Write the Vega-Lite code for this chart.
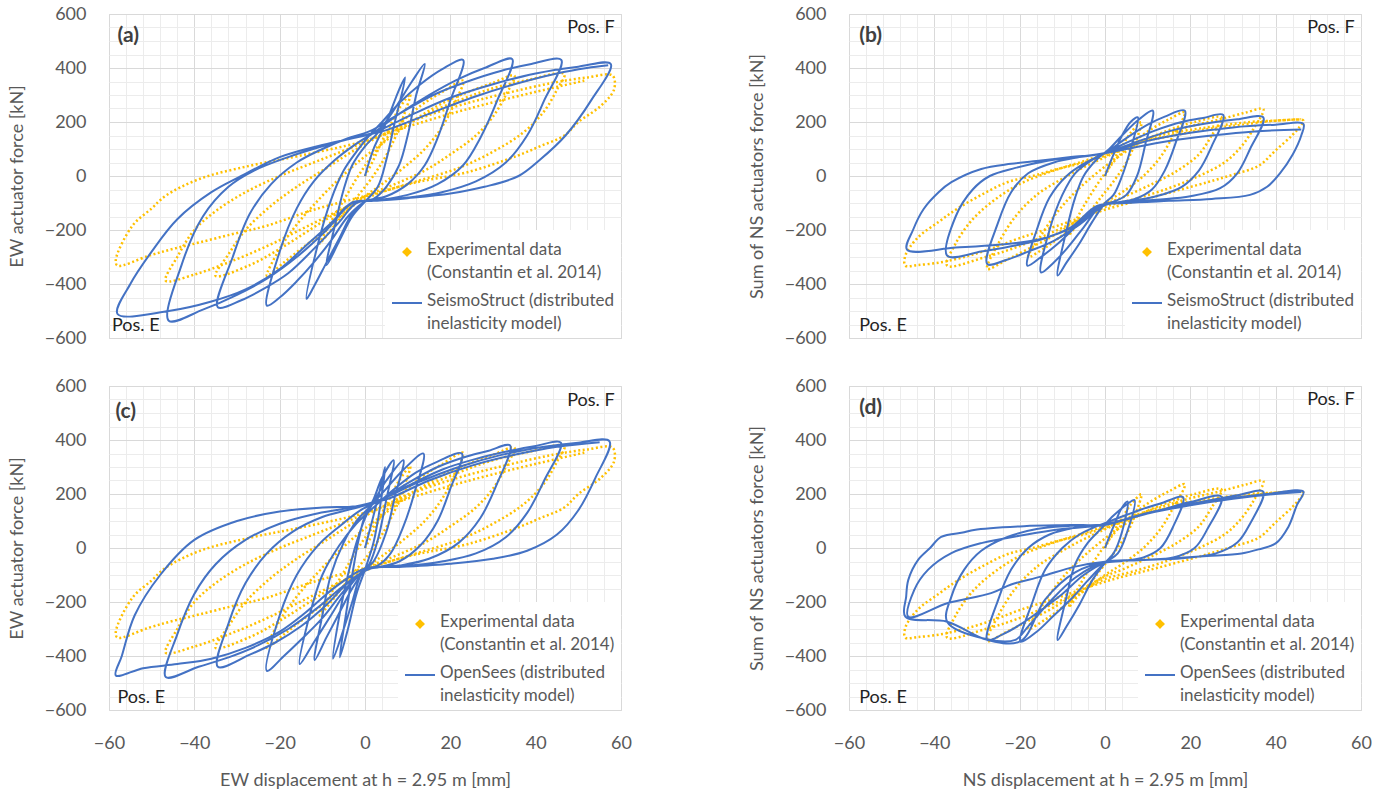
{
"$schema": "https://vega.github.io/schema/vega-lite/v6.json",
"background": "white",
"padding": {"left": 7, "top": 4, "right": 0, "bottom": 0},
"autosize": {"type": "pad"},
"config": {
  "view": {"stroke": "#d9d9d9", "strokeWidth": 1},
  "font": "Lato",
  "axis": {"labelFont": "Lato", "labelFontSize": 18, "labelColor": "#595959", "titleFont": "Lato", "titleFontSize": 18, "titleFontWeight": "normal", "titleColor": "#595959", "ticks": false, "domain": false, "gridColor": "#d9d9d9", "gridWidth": 1, "labelFlush": false}
},
"datasets": {
"expEW": [{"x":0,"y":0},{"x":2,"y":60},{"x":4,"y":130},{"x":6,"y":190},{"x":8,"y":250},{"x":10.6,"y":303},
{"x":9,"y":220},{"x":7,"y":140},{"x":4,"y":50},{"x":1,"y":-20},{"x":-2,"y":-80},{"x":-5,"y":-140},{"x":-8,"y":-200},{"x":-10.6,"y":-250},
{"x":-8,"y":-170},{"x":-5,"y":-90},{"x":-2,"y":-10},{"x":1,"y":60},{"x":4,"y":120},{"x":8,"y":190},{"x":13,"y":260},{"x":18,"y":310},{"x":23,"y":353},
{"x":21,"y":270},{"x":18,"y":180},{"x":14,"y":100},{"x":9,"y":30},{"x":4,"y":-30},{"x":0,"y":-75},{"x":-5,"y":-140},{"x":-10,"y":-210},{"x":-15,"y":-270},{"x":-19,"y":-320},{"x":-23,"y":-370},
{"x":-20,"y":-270},{"x":-16,"y":-180},{"x":-11,"y":-90},{"x":-6,"y":-10},{"x":-1,"y":60},{"x":4,"y":120},{"x":10,"y":190},{"x":17,"y":260},{"x":24,"y":310},{"x":30,"y":345},{"x":35,"y":372},
{"x":33,"y":300},{"x":30,"y":220},{"x":26,"y":150},{"x":20,"y":80},{"x":14,"y":20},{"x":7,"y":-30},{"x":0,"y":-75},{"x":-6,"y":-130},{"x":-13,"y":-200},{"x":-20,"y":-270},{"x":-27,"y":-330},{"x":-35,"y":-370},
{"x":-32,"y":-290},{"x":-28,"y":-200},{"x":-22,"y":-110},{"x":-16,"y":-40},{"x":-9,"y":30},{"x":-2,"y":100},{"x":5,"y":160},{"x":13,"y":220},{"x":22,"y":280},{"x":30,"y":325},{"x":38,"y":355},{"x":46.7,"y":378},
{"x":45,"y":320},{"x":42,"y":240},{"x":37,"y":160},{"x":30,"y":90},{"x":22,"y":30},{"x":12,"y":-20},{"x":3,"y":-65},{"x":-5,"y":-120},{"x":-14,"y":-190},{"x":-23,"y":-260},{"x":-32,"y":-320},{"x":-40,"y":-365},{"x":-46.7,"y":-388},
{"x":-44,"y":-300},{"x":-40,"y":-200},{"x":-35,"y":-130},{"x":-28,"y":-60},{"x":-20,"y":0},{"x":-12,"y":50},{"x":-4,"y":100},{"x":5,"y":160},{"x":14,"y":220},{"x":24,"y":270},{"x":34,"y":310},{"x":44,"y":345},{"x":52,"y":365},{"x":58,"y":372},
{"x":58.4,"y":322},{"x":55.3,"y":260},{"x":50,"y":200},{"x":46.7,"y":150},{"x":41,"y":110},{"x":35.7,"y":75},{"x":24,"y":14},{"x":12.2,"y":-23},{"x":0.4,"y":-73},{"x":-11.4,"y":-122},{"x":-23,"y":-184},{"x":-31,"y":-215},{"x":-38.8,"y":-246},{"x":-45,"y":-270},{"x":-50.6,"y":-295},{"x":-58,"y":-332},{"x":-58.4,"y":-310},
{"x":-54.5,"y":-184},{"x":-50,"y":-120},{"x":-46.7,"y":-73},{"x":-38.8,"y":-11},{"x":-27,"y":38},{"x":-15.3,"y":75},{"x":-1.2,"y":125},{"x":8.2,"y":174},{"x":24,"y":248},{"x":39.6,"y":310},{"x":51.4,"y":353}],
"expNS": [{"x":0,"y":0},{"x":2,"y":60},{"x":4,"y":110},{"x":6,"y":160},{"x":8.5,"y":199},
{"x":7,"y":120},{"x":5,"y":50},{"x":2,"y":-20},{"x":-1,"y":-80},{"x":-4,"y":-140},{"x":-6.5,"y":-180},{"x":-8.5,"y":-220},
{"x":-6,"y":-140},{"x":-3,"y":-60},{"x":0,"y":10},{"x":3,"y":70},{"x":7,"y":130},{"x":11,"y":175},{"x":15,"y":210},{"x":18.7,"y":236},
{"x":16,"y":150},{"x":13,"y":70},{"x":9,"y":0},{"x":4,"y":-60},{"x":0,"y":-100},{"x":-5,"y":-160},{"x":-10,"y":-220},{"x":-14,"y":-265},{"x":-18,"y":-300},
{"x":-15,"y":-220},{"x":-11,"y":-130},{"x":-7,"y":-60},{"x":-2,"y":10},{"x":3,"y":70},{"x":9,"y":130},{"x":15,"y":170},{"x":21,"y":200},{"x":27.3,"y":217},
{"x":25,"y":150},{"x":22,"y":80},{"x":17,"y":20},{"x":11,"y":-30},{"x":4,"y":-80},{"x":0,"y":-105},{"x":-6,"y":-160},{"x":-12,"y":-220},{"x":-18,"y":-270},{"x":-23,"y":-310},{"x":-27.6,"y":-344},
{"x":-25,"y":-250},{"x":-21,"y":-150},{"x":-16,"y":-70},{"x":-10,"y":-10},{"x":-4,"y":40},{"x":3,"y":90},{"x":11,"y":140},{"x":19,"y":180},{"x":27,"y":210},{"x":33,"y":235},{"x":37.1,"y":248},
{"x":35,"y":180},{"x":32,"y":110},{"x":28,"y":50},{"x":22,"y":0},{"x":15,"y":-45},{"x":7,"y":-85},{"x":0,"y":-115},{"x":-7,"y":-170},{"x":-14,"y":-220},{"x":-21,"y":-265},{"x":-28,"y":-300},{"x":-37,"y":-332},
{"x":-35,"y":-250},{"x":-31,"y":-160},{"x":-26,"y":-90},{"x":-20,"y":-30},{"x":-12,"y":20},{"x":-4,"y":60},{"x":4,"y":105},{"x":13,"y":150},{"x":24,"y":180},{"x":34,"y":200},{"x":40,"y":205},{"x":46.5,"y":205},
{"x":45.5,"y":180},{"x":43.8,"y":150},{"x":40,"y":95},{"x":36,"y":38},{"x":30,"y":5},{"x":24,"y":-23},{"x":12.4,"y":-73},{"x":0.6,"y":-122},{"x":-11.1,"y":-184},{"x":-20,"y":-230},{"x":-26.8,"y":-270},{"x":-33,"y":-300},{"x":-38.6,"y":-320},{"x":-44,"y":-330},{"x":-46.8,"y":-332},
{"x":-46.8,"y":-295},{"x":-44,"y":-230},{"x":-39,"y":-170},{"x":-34.7,"y":-122},{"x":-29,"y":-70},{"x":-22.9,"y":-23},{"x":-17,"y":0},{"x":-11.1,"y":26},{"x":-5,"y":50},{"x":0,"y":75},{"x":8.5,"y":125},{"x":16,"y":150},{"x":24,"y":174},{"x":32,"y":190},{"x":39.8,"y":205},{"x":46,"y":210}],
"ssEW": [{"x":0,"y":0},{"x":2,"y":100},{"x":5,"y":200},{"x":8,"y":320},{"x":9.4,"y":365},
{"x":7,"y":200},{"x":5,"y":60},{"x":3,"y":-40},{"x":0,"y":-95},{"x":-3,"y":-150},{"x":-6,"y":-240},{"x":-9,"y":-330},
{"x":-7,"y":-180},{"x":-5,"y":-50},{"x":-3,"y":40},{"x":0,"y":110},{"x":3,"y":160},{"x":7,"y":250},{"x":11,"y":350},{"x":14,"y":415},
{"x":12,"y":300},{"x":10,"y":150},{"x":8,"y":40},{"x":5,"y":-40},{"x":2,"y":-85},{"x":0,"y":-95},{"x":-3,"y":-140},{"x":-6,"y":-230},{"x":-9,"y":-320},{"x":-12,"y":-410},{"x":-13.7,"y":-455},
{"x":-11,"y":-250},{"x":-8,"y":-90},{"x":-5,"y":20},{"x":-2,"y":90},{"x":1,"y":150},{"x":4,"y":200},{"x":8,"y":270},{"x":13,"y":340},{"x":18,"y":395},{"x":23,"y":430},
{"x":20,"y":280},{"x":17,"y":140},{"x":14,"y":40},{"x":10,"y":-30},{"x":5,"y":-75},{"x":0,"y":-95},{"x":-4,"y":-150},{"x":-8,"y":-240},{"x":-12,"y":-320},{"x":-16,"y":-390},{"x":-20,"y":-450},{"x":-23,"y":-480},
{"x":-20,"y":-280},{"x":-16,"y":-120},{"x":-12,"y":-20},{"x":-7,"y":60},{"x":-2,"y":120},{"x":2,"y":160},{"x":8,"y":230},{"x":15,"y":300},{"x":22,"y":360},{"x":28,"y":400},{"x":34.5,"y":433},
{"x":31,"y":280},{"x":27,"y":140},{"x":23,"y":40},{"x":17,"y":-30},{"x":10,"y":-70},{"x":3,"y":-90},{"x":-2,"y":-100},{"x":-6,"y":-170},{"x":-12,"y":-270},{"x":-18,"y":-360},{"x":-24,"y":-420},{"x":-29,"y":-460},{"x":-34.5,"y":-486},
{"x":-31,"y":-300},{"x":-27,"y":-140},{"x":-22,"y":-30},{"x":-16,"y":50},{"x":-10,"y":100},{"x":-4,"y":140},{"x":1,"y":165},{"x":8,"y":230},{"x":16,"y":300},{"x":24,"y":350},{"x":32,"y":390},{"x":39,"y":415},{"x":46,"y":430},
{"x":42,"y":280},{"x":38,"y":150},{"x":33,"y":50},{"x":26,"y":-20},{"x":18,"y":-60},{"x":10,"y":-80},{"x":2,"y":-92},{"x":-3,"y":-100},{"x":-9,"y":-200},{"x":-16,"y":-300},{"x":-23,"y":-380},{"x":-30,"y":-440},{"x":-38,"y":-495},{"x":-46,"y":-536},
{"x":-43,"y":-330},{"x":-38,"y":-150},{"x":-32,"y":-40},{"x":-26,"y":20},{"x":-18,"y":70},{"x":-10,"y":110},{"x":-3,"y":140},{"x":2,"y":160},{"x":10,"y":220},{"x":20,"y":290},{"x":30,"y":340},{"x":40,"y":380},{"x":50,"y":405},{"x":57.6,"y":415},
{"x":53,"y":280},{"x":47,"y":150},{"x":41,"y":60},{"x":36,"y":0},{"x":28,"y":-40},{"x":20,"y":-65},{"x":10,"y":-82},{"x":2,"y":-92},{"x":-3,"y":-98},{"x":-8,"y":-175},{"x":-14,"y":-260},{"x":-20,"y":-345},{"x":-28,"y":-420},{"x":-36,"y":-465},{"x":-46,"y":-500},{"x":-58,"y":-511},
{"x":-55,"y":-400},{"x":-50,"y":-280},{"x":-44,"y":-160},{"x":-36,"y":-60},{"x":-29,"y":0},{"x":-20,"y":70},{"x":-10,"y":115},{"x":0,"y":150},{"x":5,"y":170},{"x":15,"y":230},{"x":25,"y":290},{"x":35,"y":340},{"x":45,"y":380},{"x":52,"y":400},{"x":57,"y":410}],
"osEW": [{"x":0,"y":0},{"x":2,"y":120},{"x":4,"y":250},{"x":4.7,"y":300},
{"x":3.5,"y":150},{"x":2,"y":20},{"x":0,"y":-80},{"x":-2,"y":-170},{"x":-4,"y":-300},{"x":-5.9,"y":-405},
{"x":-4.5,"y":-250},{"x":-3,"y":-100},{"x":-1.5,"y":30},{"x":0,"y":120},{"x":2,"y":180},{"x":4,"y":260},{"x":6.7,"y":325},
{"x":5,"y":180},{"x":3,"y":30},{"x":1,"y":-60},{"x":-1,"y":-100},{"x":-3,"y":-200},{"x":-5,"y":-300},{"x":-7.5,"y":-410},
{"x":-6,"y":-250},{"x":-4,"y":-100},{"x":-2,"y":20},{"x":0,"y":110},{"x":2,"y":170},{"x":5,"y":250},{"x":9,"y":325},
{"x":7,"y":190},{"x":5,"y":60},{"x":2,"y":-50},{"x":0,"y":-80},{"x":-3,"y":-150},{"x":-6,"y":-240},{"x":-9,"y":-330},{"x":-11.8,"y":-415},
{"x":-10,"y":-250},{"x":-8,"y":-100},{"x":-5,"y":20},{"x":-2,"y":100},{"x":1,"y":150},{"x":5,"y":220},{"x":9,"y":290},{"x":13.7,"y":350},
{"x":11.5,"y":200},{"x":9,"y":80},{"x":6,"y":-20},{"x":3,"y":-65},{"x":0,"y":-80},{"x":-4,"y":-150},{"x":-8,"y":-250},{"x":-12,"y":-350},{"x":-15.3,"y":-430},
{"x":-13,"y":-250},{"x":-10,"y":-100},{"x":-6,"y":10},{"x":-2,"y":90},{"x":2,"y":150},{"x":7,"y":220},{"x":12,"y":280},{"x":17,"y":320},{"x":22.7,"y":350},
{"x":20,"y":220},{"x":17,"y":100},{"x":13,"y":10},{"x":8,"y":-50},{"x":3,"y":-72},{"x":0,"y":-80},{"x":-5,"y":-160},{"x":-10,"y":-260},{"x":-15,"y":-340},{"x":-19,"y":-400},{"x":-23,"y":-455},
{"x":-20,"y":-250},{"x":-16,"y":-100},{"x":-11,"y":10},{"x":-6,"y":80},{"x":-1,"y":140},{"x":4,"y":180},{"x":10,"y":240},{"x":17,"y":300},{"x":24,"y":340},{"x":29,"y":360},{"x":34,"y":380},
{"x":31,"y":240},{"x":27,"y":110},{"x":22,"y":20},{"x":15,"y":-40},{"x":8,"y":-65},{"x":1,"y":-78},{"x":-4,"y":-130},{"x":-9,"y":-210},{"x":-15,"y":-290},{"x":-21,"y":-350},{"x":-27,"y":-395},{"x":-34.5,"y":-440},
{"x":-32,"y":-280},{"x":-28,"y":-130},{"x":-23,"y":-20},{"x":-17,"y":60},{"x":-10,"y":115},{"x":-3,"y":145},{"x":3,"y":175},{"x":10,"y":230},{"x":18,"y":290},{"x":26,"y":330},{"x":34,"y":360},{"x":40,"y":378},{"x":45.9,"y":390},
{"x":42,"y":250},{"x":38,"y":130},{"x":33,"y":40},{"x":26,"y":-20},{"x":18,"y":-50},{"x":9,"y":-68},{"x":1,"y":-77},{"x":-5,"y":-140},{"x":-11,"y":-220},{"x":-18,"y":-300},{"x":-25,"y":-360},{"x":-32,"y":-405},{"x":-39,"y":-440},{"x":-46.7,"y":-478},
{"x":-44,"y":-320},{"x":-40,"y":-170},{"x":-35,"y":-60},{"x":-28,"y":30},{"x":-20,"y":90},{"x":-12,"y":125},{"x":-4,"y":148},{"x":3,"y":175},{"x":12,"y":240},{"x":22,"y":300},{"x":32,"y":345},{"x":42,"y":375},{"x":50,"y":390},{"x":57.3,"y":395},
{"x":54,"y":260},{"x":50,"y":140},{"x":45,"y":50},{"x":38,"y":-10},{"x":30,"y":-40},{"x":20,"y":-58},{"x":8,"y":-70},{"x":0,"y":-76},{"x":-7,"y":-145},{"x":-14,"y":-240},{"x":-20,"y":-310},{"x":-28,"y":-370},{"x":-36,"y":-410},{"x":-44,"y":-430},{"x":-52,"y":-445},{"x":-58.4,"y":-472},
{"x":-57,"y":-400},{"x":-54,"y":-250},{"x":-48,"y":-100},{"x":-40,"y":30},{"x":-30,"y":100},{"x":-20,"y":135},{"x":-10,"y":150},{"x":-2,"y":155},{"x":5,"y":180},{"x":15,"y":250},{"x":25,"y":305},{"x":35,"y":345},{"x":45,"y":375},{"x":55,"y":392}],
"ssNS": [{"x":0,"y":0},{"x":2,"y":80},{"x":4,"y":150},{"x":6,"y":200},{"x":7.7,"y":217},
{"x":6,"y":100},{"x":4,"y":0},{"x":2,"y":-70},{"x":0,"y":-100},{"x":-3,"y":-170},{"x":-6,"y":-250},{"x":-9,"y":-320},{"x":-11.1,"y":-369},
{"x":-9,"y":-200},{"x":-7,"y":-80},{"x":-5,"y":0},{"x":-2,"y":60},{"x":1,"y":100},{"x":4,"y":150},{"x":8,"y":210},{"x":11.2,"y":242},
{"x":9.5,"y":120},{"x":7.5,"y":0},{"x":5,"y":-70},{"x":2,"y":-95},{"x":-1,"y":-110},{"x":-5,"y":-190},{"x":-9,"y":-270},{"x":-12,"y":-320},{"x":-15,"y":-357},
{"x":-13,"y":-200},{"x":-10,"y":-70},{"x":-7,"y":10},{"x":-3,"y":60},{"x":1,"y":95},{"x":5,"y":140},{"x":10,"y":190},{"x":14,"y":220},{"x":18.7,"y":242},
{"x":16.5,"y":120},{"x":14,"y":20},{"x":11,"y":-50},{"x":7,"y":-85},{"x":2,"y":-100},{"x":-2,"y":-115},{"x":-7,"y":-190},{"x":-11,"y":-250},{"x":-15,"y":-300},{"x":-18.2,"y":-332},
{"x":-16,"y":-200},{"x":-13,"y":-80},{"x":-9,"y":0},{"x":-5,"y":45},{"x":0,"y":85},{"x":6,"y":130},{"x":12,"y":170},{"x":18,"y":200},{"x":23,"y":215},{"x":27.7,"y":226},
{"x":25,"y":110},{"x":22,"y":20},{"x":18,"y":-40},{"x":12,"y":-75},{"x":5,"y":-95},{"x":0,"y":-108},{"x":-6,"y":-180},{"x":-12,"y":-240},{"x":-18,"y":-280},{"x":-23,"y":-310},{"x":-27.6,"y":-326},
{"x":-25,"y":-170},{"x":-22,"y":-60},{"x":-18,"y":10},{"x":-12,"y":50},{"x":-6,"y":70},{"x":0,"y":85},{"x":8,"y":130},{"x":16,"y":170},{"x":24,"y":195},{"x":31,"y":210},{"x":37.1,"y":217},
{"x":34,"y":100},{"x":31,"y":10},{"x":27,"y":-45},{"x":20,"y":-75},{"x":12,"y":-88},{"x":3,"y":-100},{"x":-2,"y":-112},{"x":-8,"y":-190},{"x":-15,"y":-235},{"x":-22,"y":-260},{"x":-29,"y":-280},{"x":-37,"y":-295},
{"x":-35,"y":-150},{"x":-31,"y":-50},{"x":-27,"y":0},{"x":-21,"y":30},{"x":-14,"y":55},{"x":-7,"y":70},{"x":0,"y":85},{"x":10,"y":130},{"x":20,"y":160},{"x":30,"y":180},{"x":40,"y":190},{"x":46.5,"y":193},
{"x":46,"y":150},{"x":44,"y":80},{"x":41,"y":10},{"x":38,"y":-40},{"x":34,"y":-70},{"x":25,"y":-85},{"x":15,"y":-92},{"x":5,"y":-100},{"x":-1,"y":-110},{"x":-7,"y":-185},{"x":-15,"y":-233},{"x":-25,"y":-255},{"x":-35,"y":-265},{"x":-46.4,"y":-273},
{"x":-45,"y":-200},{"x":-42.5,"y":-122},{"x":-39,"y":-60},{"x":-36,"y":-23},{"x":-29,"y":26},{"x":-22,"y":45},{"x":-15,"y":57},{"x":-8,"y":70},{"x":-1,"y":81},{"x":5,"y":100},{"x":15,"y":130},{"x":25,"y":150},{"x":35,"y":165},{"x":46,"y":172}],
"osNS": [{"x":0,"y":0},{"x":2,"y":80},{"x":4,"y":150},{"x":5.3,"y":172},
{"x":4,"y":60},{"x":2,"y":-20},{"x":0,"y":-55},{"x":-3,"y":-120},{"x":-6,"y":-210},{"x":-9,"y":-290},{"x":-11.1,"y":-341},
{"x":-9,"y":-180},{"x":-7,"y":-60},{"x":-4,"y":20},{"x":-1,"y":70},{"x":2,"y":120},{"x":5,"y":160},{"x":6.9,"y":178},
{"x":5,"y":50},{"x":3,"y":-20},{"x":0,"y":-55},{"x":-4,"y":-120},{"x":-8,"y":-190},{"x":-12,"y":-250},{"x":-16,"y":-310},{"x":-19.8,"y":-347},
{"x":-17,"y":-200},{"x":-14,"y":-80},{"x":-10,"y":0},{"x":-6,"y":50},{"x":-2,"y":80},{"x":3,"y":110},{"x":8,"y":140},{"x":13,"y":165},{"x":18.3,"y":188},
{"x":16,"y":80},{"x":13,"y":0},{"x":9,"y":-35},{"x":4,"y":-48},{"x":0,"y":-55},{"x":-5,"y":-100},{"x":-10,"y":-170},{"x":-15,"y":-230},{"x":-20,"y":-285},{"x":-24,"y":-320},{"x":-27.6,"y":-341},
{"x":-25,"y":-190},{"x":-22,"y":-80},{"x":-18,"y":0},{"x":-13,"y":50},{"x":-7,"y":75},{"x":0,"y":85},{"x":7,"y":115},{"x":14,"y":145},{"x":20,"y":170},{"x":27.3,"y":190},
{"x":24,"y":70},{"x":21,"y":0},{"x":16,"y":-35},{"x":8,"y":-45},{"x":0,"y":-52},{"x":-7,"y":-110},{"x":-13,"y":-200},{"x":-18,"y":-290},{"x":-21,"y":-340},{"x":-27.6,"y":-338},{"x":-37,"y":-273},
{"x":-36,"y":-180},{"x":-33,"y":-80},{"x":-29,"y":-10},{"x":-23,"y":40},{"x":-16,"y":70},{"x":-8,"y":82},{"x":0,"y":88},{"x":8,"y":120},{"x":16,"y":150},{"x":24,"y":175},{"x":31,"y":195},{"x":37.1,"y":209},
{"x":34,"y":90},{"x":31,"y":20},{"x":26,"y":-20},{"x":18,"y":-38},{"x":8,"y":-45},{"x":0,"y":-52},{"x":-7,"y":-90},{"x":-14,"y":-190},{"x":-19.8,"y":-345},{"x":-27.6,"y":-340},{"x":-37,"y":-273},{"x":-46.8,"y":-254},
{"x":-46.6,"y":-180},{"x":-46.1,"y":-118},{"x":-43.8,"y":-44},{"x":-41,"y":0},{"x":-38.4,"y":41},{"x":-33,"y":58},{"x":-30.7,"y":67},{"x":-19,"y":81},{"x":-8,"y":85},{"x":0,"y":88},{"x":10,"y":130},{"x":20,"y":160},{"x":30,"y":185},{"x":38,"y":200},{"x":46.5,"y":209},
{"x":45,"y":160},{"x":43,"y":79},{"x":40,"y":17},{"x":36,"y":-5},{"x":32,"y":-20},{"x":24,"y":-30},{"x":16,"y":-38},{"x":8,"y":-45},{"x":0,"y":-51},{"x":-7,"y":-69},{"x":-15,"y":-106},{"x":-22,"y":-135},{"x":-26.7,"y":-167},{"x":-36.8,"y":-204},{"x":-46.1,"y":-255},
{"x":-44.7,"y":-155},{"x":-41.5,"y":-81},{"x":-36,"y":-19},{"x":-29,"y":18},{"x":-19,"y":48},{"x":-10,"y":70},{"x":0,"y":86},{"x":10,"y":128},{"x":20,"y":158},{"x":30,"y":182},{"x":40,"y":200},{"x":46,"y":207}]
},
"columns": 2,
"spacing": {"row": 28, "column": 115},
"resolve": {"scale": {"color": "independent", "x": "independent", "y": "independent"}, "legend": {"color": "independent"}},
"concat": [
{
 "width": 512, "height": 324,
 "resolve": {"axis": {"x": "independent", "y": "independent"}},
 "layer": [
  {"data": {"name": "expEW"}, "mark": {"type": "line", "strokeWidth": 2.5, "strokeDash": [2, 2.5], "interpolate": "catmull-rom"},
   "encoding": {
    "x": {"field": "x", "type": "quantitative", "scale": {"domain": [-60, 60], "nice": false, "zero": false}, "axis": {"orient": "top", "values": [-56,-52,-48,-44,-36,-32,-28,-24,-16,-12,-8,-4,4,8,12,16,24,28,32,36,44,48,52,56], "labels": false, "title": null, "grid": true, "gridColor": "#ececec"}},
    "y": {"field": "y", "type": "quantitative", "scale": {"domain": [-600, 600], "nice": false, "zero": false}, "axis": {"orient": "right", "values": [-550,-500,-450,-350,-300,-250,-150,-100,-50,50,100,150,250,300,350,450,500,550], "labels": false, "title": null, "grid": true, "gridColor": "#ececec"}},
    "color": {"datum": "Experimental data", "type": "nominal", "scale": {"domain": ["Experimental data", "SeismoStruct"], "range": ["#FFC000", "#4472C4"]},
     "legend": {"title": null, "orient": "bottom-right", "offset": 0, "padding": 6, "fillColor": "white", "labelFont": "Lato", "labelFontSize": 17, "labelColor": "#595959", "labelLimit": 400, "symbolSize": 900, "symbolStrokeWidth": 2, "rowPadding": 6, "labelOffset": 4, "labelBaseline": "top",
      "labelExpr": "datum.value == 'Experimental data' ? ['Experimental data', '(Constantin et al. 2014)'] : [datum.value + ' (distributed', 'inelasticity model)']",
      "encode": {"symbols": {"update": {"shape": {"signal": "datum.value == 'Experimental data' ? 'diamond' : 'stroke'"}, "size": {"signal": "datum.value == 'Experimental data' ? 50 : 900"}, "fill": {"signal": "datum.value == 'Experimental data' ? '#FFC000' : 'transparent'"}, "stroke": {"signal": "datum.value == 'Experimental data' ? '#FFC000' : '#4472C4'"}, "strokeDash": {"value": [1, 0]}}},
                 "labels": {"update": {"dy": {"value": -10}, "lineHeight": {"value": 23}}}}}},
    "order": {"value": null}
   }},
  {"data": {"name": "ssEW"}, "mark": {"type": "line", "strokeWidth": 2, "interpolate": "catmull-rom"},
   "encoding": {
    "x": {"field": "x", "type": "quantitative", "axis": {"orient": "bottom", "values": [-60,-40,-20,0,20,40,60], "labels": false, "title": null, "grid": true}},
    "y": {"field": "y", "type": "quantitative", "axis": {"orient": "left", "values": [-600,-400,-200,0,200,400,600], "grid": true, "labelPadding": 23, "title": "EW actuator force [kN]", "titlePadding": 18}},
    "color": {"datum": "SeismoStruct", "type": "nominal"},
    "order": {"value": null}
   }},
  {"data": {"values": [{}]}, "mark": {"type": "text", "font": "Lato", "fontSize": 21, "fontWeight": "bold", "color": "#404040", "align": "left", "baseline": "middle"},
   "encoding": {"x": {"datum": -58, "type": "quantitative", "axis": null}, "y": {"datum": 520, "type": "quantitative", "axis": null}, "text": {"value": "(a)"}}},
  {"data": {"values": [{}]}, "mark": {"type": "text", "font": "Lato", "fontSize": 18, "color": "#222222", "align": "right", "baseline": "middle"},
   "encoding": {"x": {"datum": 58.5, "type": "quantitative", "axis": null}, "y": {"datum": 548, "type": "quantitative", "axis": null}, "text": {"value": "Pos. F"}}},
  {"data": {"values": [{}]}, "mark": {"type": "text", "font": "Lato", "fontSize": 18, "color": "#222222", "align": "left", "baseline": "middle"},
   "encoding": {"x": {"datum": -59.3, "type": "quantitative", "axis": null}, "y": {"datum": -555, "type": "quantitative", "axis": null}, "text": {"value": "Pos. E"}}}
 ]
},
{
 "width": 512, "height": 324,
 "resolve": {"axis": {"x": "independent", "y": "independent"}},
 "layer": [
  {"data": {"name": "expNS"}, "mark": {"type": "line", "strokeWidth": 2.5, "strokeDash": [2, 2.5], "interpolate": "catmull-rom"},
   "encoding": {
    "x": {"field": "x", "type": "quantitative", "scale": {"domain": [-60, 60], "nice": false, "zero": false}, "axis": {"orient": "top", "values": [-56,-52,-48,-44,-36,-32,-28,-24,-16,-12,-8,-4,4,8,12,16,24,28,32,36,44,48,52,56], "labels": false, "title": null, "grid": true, "gridColor": "#ececec"}},
    "y": {"field": "y", "type": "quantitative", "scale": {"domain": [-600, 600], "nice": false, "zero": false}, "axis": {"orient": "right", "values": [-550,-500,-450,-350,-300,-250,-150,-100,-50,50,100,150,250,300,350,450,500,550], "labels": false, "title": null, "grid": true, "gridColor": "#ececec"}},
    "color": {"datum": "Experimental data", "type": "nominal", "scale": {"domain": ["Experimental data", "SeismoStruct"], "range": ["#FFC000", "#4472C4"]},
     "legend": {"title": null, "orient": "bottom-right", "offset": 0, "padding": 6, "fillColor": "white", "labelFont": "Lato", "labelFontSize": 17, "labelColor": "#595959", "labelLimit": 400, "symbolSize": 900, "symbolStrokeWidth": 2, "rowPadding": 6, "labelOffset": 4, "labelBaseline": "top",
      "labelExpr": "datum.value == 'Experimental data' ? ['Experimental data', '(Constantin et al. 2014)'] : [datum.value + ' (distributed', 'inelasticity model)']",
      "encode": {"symbols": {"update": {"shape": {"signal": "datum.value == 'Experimental data' ? 'diamond' : 'stroke'"}, "size": {"signal": "datum.value == 'Experimental data' ? 50 : 900"}, "fill": {"signal": "datum.value == 'Experimental data' ? '#FFC000' : 'transparent'"}, "stroke": {"signal": "datum.value == 'Experimental data' ? '#FFC000' : '#4472C4'"}, "strokeDash": {"value": [1, 0]}}},
                 "labels": {"update": {"dy": {"value": -10}, "lineHeight": {"value": 23}}}}}},
    "order": {"value": null}
   }},
  {"data": {"name": "ssNS"}, "mark": {"type": "line", "strokeWidth": 2, "interpolate": "catmull-rom"},
   "encoding": {
    "x": {"field": "x", "type": "quantitative", "axis": {"orient": "bottom", "values": [-60,-40,-20,0,20,40,60], "labels": false, "title": null, "grid": true}},
    "y": {"field": "y", "type": "quantitative", "axis": {"orient": "left", "values": [-600,-400,-200,0,200,400,600], "grid": true, "labelPadding": 23, "title": "Sum of NS actuators force [kN]", "titlePadding": 18}},
    "color": {"datum": "SeismoStruct", "type": "nominal"},
    "order": {"value": null}
   }},
  {"data": {"values": [{}]}, "mark": {"type": "text", "font": "Lato", "fontSize": 21, "fontWeight": "bold", "color": "#404040", "align": "left", "baseline": "middle"},
   "encoding": {"x": {"datum": -57.6, "type": "quantitative", "axis": null}, "y": {"datum": 520, "type": "quantitative", "axis": null}, "text": {"value": "(b)"}}},
  {"data": {"values": [{}]}, "mark": {"type": "text", "font": "Lato", "fontSize": 18, "color": "#222222", "align": "right", "baseline": "middle"},
   "encoding": {"x": {"datum": 58.5, "type": "quantitative", "axis": null}, "y": {"datum": 548, "type": "quantitative", "axis": null}, "text": {"value": "Pos. F"}}},
  {"data": {"values": [{}]}, "mark": {"type": "text", "font": "Lato", "fontSize": 18, "color": "#222222", "align": "left", "baseline": "middle"},
   "encoding": {"x": {"datum": -57.6, "type": "quantitative", "axis": null}, "y": {"datum": -555, "type": "quantitative", "axis": null}, "text": {"value": "Pos. E"}}}
 ]
},
{
 "width": 512, "height": 324,
 "resolve": {"axis": {"x": "independent", "y": "independent"}},
 "layer": [
  {"data": {"name": "expEW"}, "mark": {"type": "line", "strokeWidth": 2.5, "strokeDash": [2, 2.5], "interpolate": "catmull-rom"},
   "encoding": {
    "x": {"field": "x", "type": "quantitative", "scale": {"domain": [-60, 60], "nice": false, "zero": false}, "axis": {"orient": "top", "values": [-56,-52,-48,-44,-36,-32,-28,-24,-16,-12,-8,-4,4,8,12,16,24,28,32,36,44,48,52,56], "labels": false, "title": null, "grid": true, "gridColor": "#ececec"}},
    "y": {"field": "y", "type": "quantitative", "scale": {"domain": [-600, 600], "nice": false, "zero": false}, "axis": {"orient": "right", "values": [-550,-500,-450,-350,-300,-250,-150,-100,-50,50,100,150,250,300,350,450,500,550], "labels": false, "title": null, "grid": true, "gridColor": "#ececec"}},
    "color": {"datum": "Experimental data", "type": "nominal", "scale": {"domain": ["Experimental data", "OpenSees"], "range": ["#FFC000", "#4472C4"]},
     "legend": {"title": null, "orient": "bottom-right", "offset": 0, "padding": 6, "fillColor": "white", "labelFont": "Lato", "labelFontSize": 17, "labelColor": "#595959", "labelLimit": 400, "symbolSize": 900, "symbolStrokeWidth": 2, "rowPadding": 6, "labelOffset": 4, "labelBaseline": "top",
      "labelExpr": "datum.value == 'Experimental data' ? ['Experimental data', '(Constantin et al. 2014)'] : [datum.value + ' (distributed', 'inelasticity model)']",
      "encode": {"symbols": {"update": {"shape": {"signal": "datum.value == 'Experimental data' ? 'diamond' : 'stroke'"}, "size": {"signal": "datum.value == 'Experimental data' ? 50 : 900"}, "fill": {"signal": "datum.value == 'Experimental data' ? '#FFC000' : 'transparent'"}, "stroke": {"signal": "datum.value == 'Experimental data' ? '#FFC000' : '#4472C4'"}, "strokeDash": {"value": [1, 0]}}},
                 "labels": {"update": {"dy": {"value": -10}, "lineHeight": {"value": 23}}}}}},
    "order": {"value": null}
   }},
  {"data": {"name": "osEW"}, "mark": {"type": "line", "strokeWidth": 2, "interpolate": "catmull-rom"},
   "encoding": {
    "x": {"field": "x", "type": "quantitative", "axis": {"orient": "bottom", "values": [-60,-40,-20,0,20,40,60], "grid": true, "labelPadding": 24, "title": "EW displacement at h = 2.95 m [mm]", "titlePadding": 19}},
    "y": {"field": "y", "type": "quantitative", "axis": {"orient": "left", "values": [-600,-400,-200,0,200,400,600], "grid": true, "labelPadding": 23, "title": "EW actuator force [kN]", "titlePadding": 18}},
    "color": {"datum": "OpenSees", "type": "nominal"},
    "order": {"value": null}
   }},
  {"data": {"values": [{}]}, "mark": {"type": "text", "font": "Lato", "fontSize": 21, "fontWeight": "bold", "color": "#404040", "align": "left", "baseline": "middle"},
   "encoding": {"x": {"datum": -58.5, "type": "quantitative", "axis": null}, "y": {"datum": 505, "type": "quantitative", "axis": null}, "text": {"value": "(c)"}}},
  {"data": {"values": [{}]}, "mark": {"type": "text", "font": "Lato", "fontSize": 18, "color": "#222222", "align": "right", "baseline": "middle"},
   "encoding": {"x": {"datum": 58.5, "type": "quantitative", "axis": null}, "y": {"datum": 545, "type": "quantitative", "axis": null}, "text": {"value": "Pos. F"}}},
  {"data": {"values": [{}]}, "mark": {"type": "text", "font": "Lato", "fontSize": 18, "color": "#222222", "align": "left", "baseline": "middle"},
   "encoding": {"x": {"datum": -58, "type": "quantitative", "axis": null}, "y": {"datum": -555, "type": "quantitative", "axis": null}, "text": {"value": "Pos. E"}}}
 ]
},
{
 "width": 512, "height": 324,
 "resolve": {"axis": {"x": "independent", "y": "independent"}},
 "layer": [
  {"data": {"name": "expNS"}, "mark": {"type": "line", "strokeWidth": 2.5, "strokeDash": [2, 2.5], "interpolate": "catmull-rom"},
   "encoding": {
    "x": {"field": "x", "type": "quantitative", "scale": {"domain": [-60, 60], "nice": false, "zero": false}, "axis": {"orient": "top", "values": [-56,-52,-48,-44,-36,-32,-28,-24,-16,-12,-8,-4,4,8,12,16,24,28,32,36,44,48,52,56], "labels": false, "title": null, "grid": true, "gridColor": "#ececec"}},
    "y": {"field": "y", "type": "quantitative", "scale": {"domain": [-600, 600], "nice": false, "zero": false}, "axis": {"orient": "right", "values": [-550,-500,-450,-350,-300,-250,-150,-100,-50,50,100,150,250,300,350,450,500,550], "labels": false, "title": null, "grid": true, "gridColor": "#ececec"}},
    "color": {"datum": "Experimental data", "type": "nominal", "scale": {"domain": ["Experimental data", "OpenSees"], "range": ["#FFC000", "#4472C4"]},
     "legend": {"title": null, "orient": "bottom-right", "offset": 0, "padding": 6, "fillColor": "white", "labelFont": "Lato", "labelFontSize": 17, "labelColor": "#595959", "labelLimit": 400, "symbolSize": 900, "symbolStrokeWidth": 2, "rowPadding": 6, "labelOffset": 4, "labelBaseline": "top",
      "labelExpr": "datum.value == 'Experimental data' ? ['Experimental data', '(Constantin et al. 2014)'] : [datum.value + ' (distributed', 'inelasticity model)']",
      "encode": {"symbols": {"update": {"shape": {"signal": "datum.value == 'Experimental data' ? 'diamond' : 'stroke'"}, "size": {"signal": "datum.value == 'Experimental data' ? 50 : 900"}, "fill": {"signal": "datum.value == 'Experimental data' ? '#FFC000' : 'transparent'"}, "stroke": {"signal": "datum.value == 'Experimental data' ? '#FFC000' : '#4472C4'"}, "strokeDash": {"value": [1, 0]}}},
                 "labels": {"update": {"dy": {"value": -10}, "lineHeight": {"value": 23}}}}}},
    "order": {"value": null}
   }},
  {"data": {"name": "osNS"}, "mark": {"type": "line", "strokeWidth": 2, "interpolate": "catmull-rom"},
   "encoding": {
    "x": {"field": "x", "type": "quantitative", "axis": {"orient": "bottom", "values": [-60,-40,-20,0,20,40,60], "grid": true, "labelPadding": 24, "title": "NS displacement at h = 2.95 m [mm]", "titlePadding": 19}},
    "y": {"field": "y", "type": "quantitative", "axis": {"orient": "left", "values": [-600,-400,-200,0,200,400,600], "grid": true, "labelPadding": 23, "title": "Sum of NS actuators force [kN]", "titlePadding": 18}},
    "color": {"datum": "OpenSees", "type": "nominal"},
    "order": {"value": null}
   }},
  {"data": {"values": [{}]}, "mark": {"type": "text", "font": "Lato", "fontSize": 21, "fontWeight": "bold", "color": "#404040", "align": "left", "baseline": "middle"},
   "encoding": {"x": {"datum": -57.6, "type": "quantitative", "axis": null}, "y": {"datum": 520, "type": "quantitative", "axis": null}, "text": {"value": "(d)"}}},
  {"data": {"values": [{}]}, "mark": {"type": "text", "font": "Lato", "fontSize": 18, "color": "#222222", "align": "right", "baseline": "middle"},
   "encoding": {"x": {"datum": 58.5, "type": "quantitative", "axis": null}, "y": {"datum": 548, "type": "quantitative", "axis": null}, "text": {"value": "Pos. F"}}},
  {"data": {"values": [{}]}, "mark": {"type": "text", "font": "Lato", "fontSize": 18, "color": "#222222", "align": "left", "baseline": "middle"},
   "encoding": {"x": {"datum": -57.6, "type": "quantitative", "axis": null}, "y": {"datum": -555, "type": "quantitative", "axis": null}, "text": {"value": "Pos. E"}}}
 ]
}
]
}
